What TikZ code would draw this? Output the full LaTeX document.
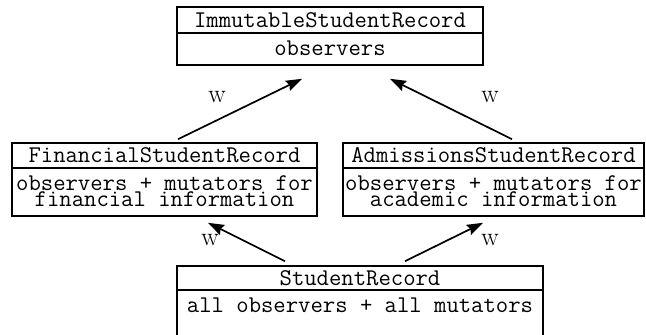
\documentclass[tikz,border=0pt]{standalone}
\usetikzlibrary{arrows.meta}
\begin{document}
\begin{tikzpicture}[x=1pt,y=-1pt,
  box/.style={draw, line width=1.6pt, rectangle, inner sep=0pt, fill=none},
  tt/.style={font=\fontsize{24}{24}\selectfont\ttfamily, inner sep=0pt, anchor=base},
  wlab/.style={font=\fontsize{26}{26}\selectfont\rmfamily, inner sep=0pt},
  conn/.style={line width=1.7pt, -{Stealth[length=16pt,width=11pt,inset=2pt]}}
]
\useasboundingbox (0,0) rectangle (646,335);
% top box
\node[box, minimum width=306pt, minimum height=26pt] (immT) at (330,20) {};
\node[box, minimum width=306pt, minimum height=32pt] (immB) at (330,49) {};
\node[tt] (immTt) at (330,27) {ImmutableStudentRecord};
\node[tt] (immBt) at (330,55) {observers};
% left box
\node[box, minimum width=305pt, minimum height=25pt] (finT) at (164.5,155.5) {};
\node[box, minimum width=305pt, minimum height=48pt] (finB) at (164.5,192) {};
\node[tt] (finTt) at (164.5,162) {FinancialStudentRecord};
\node[tt] (finB1) at (164.5,190) {observers + mutators for};
\node[tt] (finB2) at (164.5,206) {financial information};
% right box
\node[box, minimum width=301pt, minimum height=25pt] (admT) at (493.5,155.5) {};
\node[box, minimum width=301pt, minimum height=48pt] (admB) at (493.5,192) {};
\node[tt] (admTt) at (493.5,162) {AdmissionsStudentRecord};
\node[tt] (admB1) at (493.5,190) {observers + mutators for};
\node[tt] (admB2) at (493.5,206) {academic information};
% bottom box
\node[box, minimum width=366pt, minimum height=24pt] (stuT) at (360,278) {};
\node[box, minimum width=366pt, minimum height=50pt] (stuB) at (360,315) {};
\node[tt] (stuTt) at (360,285) {StudentRecord};
\node[tt] (stuBt) at (360,312) {all observers + all mutators};
% connectors
\coordinate (a1s) at ([xshift=13.5pt,yshift=3pt]finT.north);
\coordinate (a1e) at ([xshift=-28pt,yshift=-13pt]immB.south);
\coordinate (a2s) at ([xshift=18.5pt,yshift=3pt]admT.north);
\coordinate (a2e) at ([xshift=60pt,yshift=-13pt]immB.south);
\coordinate (a3s) at ([xshift=-75pt,yshift=4pt]stuT.north);
\coordinate (a3e) at ([xshift=43.5pt,yshift=-6pt]finB.south);
\coordinate (a4s) at ([xshift=45pt,yshift=4pt]stuT.north);
\coordinate (a4e) at ([xshift=-10.5pt,yshift=-6pt]admB.south);
\draw[conn] (a1s) -- (a1e);
\draw[conn] (a2s) -- (a2e);
\draw[conn] (a3s) -- (a3e);
\draw[conn] (a4s) -- (a4e);
% labels
\node[wlab] (w1) at (217,97) {w};
\node[wlab] (w2) at (490,97) {w};
\node[wlab] (w3) at (210,240) {w};
\node[wlab] (w4) at (490,240) {w};
\end{tikzpicture}
\end{document}
